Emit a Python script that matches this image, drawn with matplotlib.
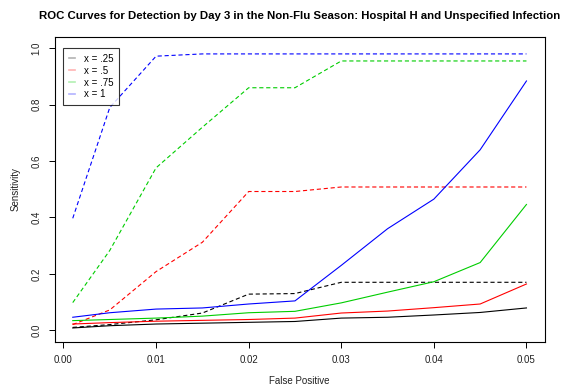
import matplotlib
matplotlib.use("Agg")
import matplotlib.pyplot as plt

plt.rcParams['font.family'] = ['Liberation Sans', 'DejaVu Sans']
plt.rcParams['lines.scale_dashes'] = False

fp = [0.001, 0.005, 0.01, 0.015, 0.02, 0.025, 0.03, 0.035, 0.04, 0.045, 0.05]

# dashed curves
dash_025 = [0.010, 0.020, 0.037, 0.061, 0.128, 0.130, 0.170, 0.170, 0.170, 0.170, 0.170]
dash_05  = [0.020, 0.072, 0.208, 0.312, 0.492, 0.492, 0.508, 0.508, 0.508, 0.508, 0.508]
dash_075 = [0.098, 0.283, 0.576, 0.720, 0.860, 0.860, 0.955, 0.955, 0.955, 0.955, 0.955]
dash_1   = [0.397, 0.790, 0.972, 0.980, 0.980, 0.980, 0.980, 0.980, 0.980, 0.980, 0.980]

# solid curves
sol_025 = [0.008, 0.016, 0.022, 0.025, 0.028, 0.031, 0.043, 0.046, 0.054, 0.063, 0.079]
sol_05  = [0.022, 0.027, 0.032, 0.035, 0.038, 0.043, 0.061, 0.068, 0.080, 0.093, 0.164]
sol_075 = [0.034, 0.038, 0.043, 0.050, 0.062, 0.067, 0.097, 0.135, 0.172, 0.240, 0.446]
sol_1   = [0.046, 0.062, 0.075, 0.079, 0.093, 0.104, 0.230, 0.360, 0.465, 0.640, 0.884]

colors = ['black', 'red', '#00CD00', 'blue']
legend_labels = ['x = .25', 'x = .5', 'x = .75', 'x = 1']
xticks = [0.00, 0.01, 0.02, 0.03, 0.04, 0.05]
yticks = [0.0, 0.2, 0.4, 0.6, 0.8, 1.0]

fig = plt.figure(figsize=(5.7, 3.85), dpi=100)
ax = fig.add_axes([54.6/570, 1 - 341.5/385, 490/570, (341.5 - 37)/385])

lw = 0.8
for d, c in zip([dash_025, dash_05, dash_075, dash_1], colors):
    ax.plot(fp, d, color=c, lw=lw, linestyle=(0, (3, 2)))
for s, c in zip([sol_025, sol_05, sol_075, sol_1], colors):
    ax.plot(fp, s, color=c, lw=lw)

xr = fp[-1] - fp[0]
ax.set_xlim(fp[0] - 0.04 * xr, fp[-1] + 0.04 * xr)
ax.set_ylim(-0.04, 1.04)
ax.set_xticks(xticks)
ax.set_xticklabels(['%.2f' % v for v in xticks])
ax.set_yticks(yticks)
ax.set_yticklabels(['%.1f' % v for v in yticks], rotation=90, va='center')
ax.tick_params(direction='out', length=4.5, width=0.7, labelsize=7, pad=5,
               colors='black', labelcolor='#222222')
for sp in ax.spines.values():
    sp.set_linewidth(0.8)

ax.set_xlabel('False Positive', fontsize=7, labelpad=8, color='#222222')
ax.set_ylabel('Sensitivity', fontsize=7, labelpad=8, color='#222222')
fig.text(300/570, 1 - 16/385, 'ROC Curves for Detection by Day 3 in the Non-Flu Season: Hospital H and Unspecified Infection',
         ha='center', va='center', fontsize=8.2, fontweight='bold')

handles = [plt.Line2D([], [], color=c, lw=1.2, alpha=0.3) for c in colors]
leg = ax.legend(handles, legend_labels, loc='upper left',
                bbox_to_anchor=((63.3 - 54.6)/490, 1 - (48.3 - 37)/304.5),
                fontsize=7, frameon=True, fancybox=False, edgecolor='black', handlelength=0.7,
                handletextpad=0.9, labelspacing=0.2, borderpad=0.55, borderaxespad=0)
leg.get_frame().set_linewidth(0.8)

fig.savefig('out.png', dpi=100)
